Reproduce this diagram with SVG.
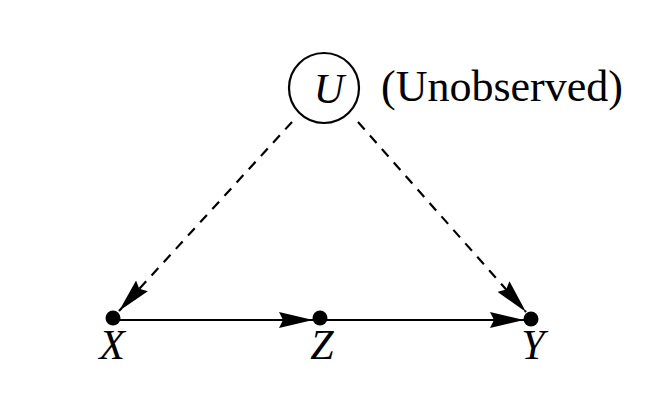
<svg xmlns="http://www.w3.org/2000/svg" width="666" height="414" viewBox="0 0 666 414">
<defs>
<style>
.lbl{font-family:"Liberation Serif","Times New Roman",serif;font-style:italic;font-size:42px;fill:#000}
.txt{font-family:"Liberation Serif","Times New Roman",serif;font-size:44px;fill:#000}
.edge{stroke:#000;stroke-width:2.2;fill:none}
.dash{stroke-dasharray:10 8}
.dot{fill:#000}
</style>
<marker id="ah" markerUnits="userSpaceOnUse" markerWidth="36" markerHeight="16" refX="34" refY="8" orient="auto">
<path d="M0,0 L34,8 L0,16 L4,8 z" fill="#000"/>
</marker>
</defs>
<rect width="666" height="414" fill="#fff"/>
<g id="connectors">
<line class="edge" x1="119" y1="320" x2="313" y2="320" marker-end="url(#ah)"/>
<line class="edge" x1="326" y1="320" x2="524" y2="320" marker-end="url(#ah)"/>
<line class="edge dash" x1="292" y1="122" x2="119" y2="311" marker-end="url(#ah)"/>
<line class="edge dash" x1="358" y1="122" x2="526" y2="312" marker-end="url(#ah)"/>
</g>
<g id="U">
<circle cx="324" cy="88" r="35" fill="#fff" stroke="#000" stroke-width="2.2"/>
<text class="lbl" x="329" y="103" text-anchor="middle">U</text>
<text class="txt" x="381" y="101">(Unobserved)</text>
</g>
<g id="X">
<circle class="dot" cx="113" cy="318" r="7.5"/>
<text class="lbl" x="112" y="359" text-anchor="middle">X</text>
</g>
<g id="Z">
<circle class="dot" cx="320" cy="318" r="7.5"/>
<text class="lbl" x="322" y="359" text-anchor="middle">Z</text>
</g>
<g id="Y">
<circle class="dot" cx="531" cy="319" r="7.5"/>
<text class="lbl" x="533" y="359" text-anchor="middle">Y</text>
</g>
</svg>
